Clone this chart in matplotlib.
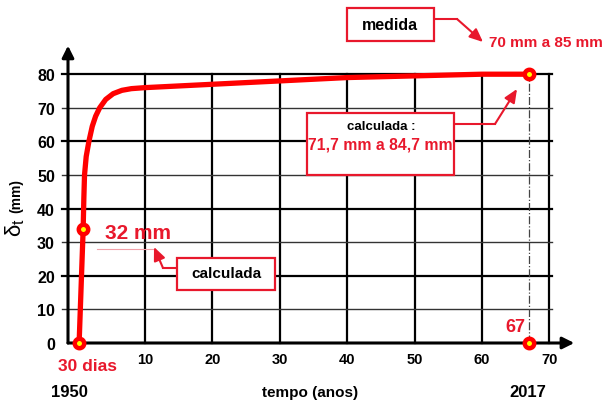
import matplotlib
matplotlib.use("Agg")
import matplotlib.pyplot as plt
from matplotlib.lines import Line2D
from matplotlib.patches import Rectangle

plt.rcParams['font.family'] = ['Liberation Sans', 'DejaVu Sans']
plt.rcParams['mathtext.fontset'] = 'custom'
plt.rcParams['mathtext.rm'] = 'Liberation Sans'

# curva calculada (tempo em anos, deslocamento em mm)
t_anos = [0.25, 0.55, 0.85, 0.95, 1.05, 1.3, 1.7, 2.2, 2.7, 3.3, 4.2, 5.3, 6.6, 8.0,
          10, 20, 30, 40, 50, 60, 67]
delta_mm = [0, 17, 34, 43, 50, 55.5, 60, 64.5, 67.5, 70, 72.5, 74.2, 75.2, 75.7,
            76, 77, 78, 79, 79.5, 80, 80]
# pontos marcados
pontos_t = [0.25, 0.85, 67, 67]
pontos_d = [0, 34, 80, 0]
x_ticks = [10, 20, 30, 40, 50, 60, 70]
y_ticks = [0, 10, 20, 30, 40, 50, 60, 70, 80]

VERM = '#e8182c'
W, H = 607, 402

def fx(px):
    return px / W

def fy(py):
    return 1 - py / H

fig = plt.figure(figsize=(W / 100, H / 100), dpi=100)
ax = fig.add_axes([68 / W, 58 / H, 512 / W, 302.4 / H])
ax.set_xlim(-1.4, 74.55)
ax.set_ylim(0, 90)
for s in ax.spines.values():
    s.set_visible(False)

ax.set_xticks(x_ticks)
ax.set_xticklabels([str(v) for v in x_ticks], fontsize=10.5, fontweight='bold')
ax.set_yticks(y_ticks)
ax.set_yticklabels([str(v) for v in y_ticks], fontsize=11.5, fontweight='bold')
ax.tick_params(axis='x', length=0, pad=6.5)
ax.tick_params(axis='y', length=0, pad=9.4)

# grade
for v in x_ticks:
    ax.plot([v, v], [0, 80], color='black', lw=1.6, zorder=1, clip_on=False)
for v in y_ticks[1:]:
    if v % 20 == 0:
        ax.plot([-2.3, 70.4], [v, v], color='black', lw=1.6, zorder=1, clip_on=False)
    else:
        ax.plot([-2.3, 70.4], [v, v], color='#333333', lw=1.0, zorder=1, clip_on=False)

# linha tracejada em 67
ax.plot([67, 67], [0, 80], color='#444444', lw=0.9, ls='-.', zorder=2)

# eixos com setas
seta_eixo = dict(arrowstyle='-|>,head_length=0.7,head_width=0.35', color='black',
                 lw=2.2, shrinkA=0, shrinkB=0, mutation_scale=10)
ax.annotate('', xy=(-1.4, 88.5), xytext=(-1.4, 0), xycoords='data', arrowprops=seta_eixo,
            annotation_clip=False)
ax.annotate('', xy=(73.7, 0), xytext=(-1.4, 0), xycoords='data', arrowprops=seta_eixo,
            annotation_clip=False)

# curva
ax.plot(t_anos, delta_mm, color='#ff0000', lw=3.8, solid_capstyle='round', zorder=4,
        clip_on=False)
ax.plot(pontos_t, pontos_d, 'o', ms=6.8, mfc='#ffff00', mec='#ff0000', mew=3.2,
        zorder=6, clip_on=False)

# rotulo eixo y
fig.text(fx(15), fy(228), r'$\mathrm{\delta_t}$', fontsize=16, rotation=90,
         ha='center', va='center')
fig.text(fx(16), fy(196), '(mm)', fontsize=10, fontweight='bold', rotation=90,
         ha='center', va='center')

# textos
fig.text(fx(88), fy(367), '30 dias', color=VERM, fontsize=12.5, fontweight='bold',
         ha='center', va='center')
fig.text(fx(69), fy(393), '1950', fontsize=12, fontweight='bold', ha='center', va='center')
fig.text(fx(528), fy(393), '2017', fontsize=12, fontweight='bold', ha='center', va='center')
fig.text(fx(310), fy(393), 'tempo (anos)', fontsize=11, fontweight='bold',
         ha='center', va='center')
fig.text(fx(515), fy(328), '67', color=VERM, fontsize=13, fontweight='bold',
         ha='center', va='center')
fig.text(fx(138), fy(234), '32 mm', color=VERM, fontsize=15, fontweight='bold',
         ha='center', va='center')
fig.text(fx(546), fy(43), '70 mm a 85 mm', color=VERM, fontsize=11, fontweight='bold',
         ha='center', va='center')

# caixas
def caixa(x0, y0, x1, y1):
    r = Rectangle((fx(x0), fy(y1)), fx(x1) - fx(x0), fy(y0) - fy(y1),
                  transform=fig.transFigure, fc='white', ec=VERM, lw=1.6, zorder=7)
    fig.add_artist(r)

caixa(347, 9, 434, 42)
fig.text(fx(390), fy(25), 'medida', fontsize=11.5, fontweight='bold', ha='center',
         va='center', zorder=8)
caixa(307, 114, 454, 176)
fig.text(fx(381), fy(127), 'calculada :', fontsize=9.5, fontweight='bold', ha='center',
         va='center', zorder=8)
fig.text(fx(380), fy(145), '71,7 mm a 84,7 mm', color=VERM, fontsize=11.3,
         fontweight='bold', ha='center', va='center', zorder=8)
caixa(177, 259, 275, 291)
fig.text(fx(226), fy(274), 'calculada', fontsize=11, fontweight='bold', ha='center',
         va='center', zorder=8)

# setas das caixas
def seta(pts):
    xs = [fx(p[0]) for p in pts[:-1]]
    ys = [fy(p[1]) for p in pts[:-1]]
    fig.add_artist(Line2D(xs, ys, transform=fig.transFigure, color=VERM, lw=1.5))
    ax.annotate('', xy=(fx(pts[-1][0]), fy(pts[-1][1])),
                xytext=(fx(pts[-2][0]), fy(pts[-2][1])), xycoords='figure fraction',
                arrowprops=dict(arrowstyle='-|>,head_length=0.8,head_width=0.35',
                                color=VERM, lw=1.5, shrinkA=0, shrinkB=0,
                                mutation_scale=10),
                annotation_clip=False)

seta([(434, 20), (457, 20), (483, 43)])
seta([(454, 125), (495, 125), (517, 90)])
seta([(177, 269), (163, 269), (154, 248)])
fig.add_artist(Line2D([fx(97), fx(153)], [fy(250), fy(250)], transform=fig.transFigure,
                      color='#f2a0a8', lw=0.8))

fig.savefig('out.png', dpi=100)
